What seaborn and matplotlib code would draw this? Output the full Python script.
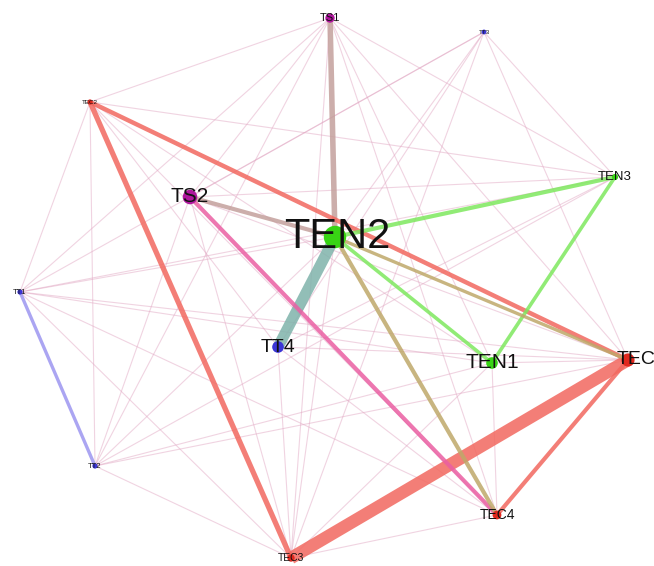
import matplotlib
matplotlib.use("Agg")
import matplotlib.pyplot as plt
import seaborn as sns
import pandas as pd

# ---- data ----
node_names = ["TS1", "TT3", "TEC2", "TEN3", "TS2", "TEN2", "TT1", "TT4", "TEN1", "TEC", "TT2", "TEC4", "TEC3"]
node_x = [330, 484, 90, 615, 190, 335, 20, 278, 492, 628, 95, 497, 291]
node_y = [18, 32, 102, 177, 197, 237, 292, 347, 363, 360, 466, 515, 558]
node_group = ["S", "T", "EC", "EN", "S", "EN", "T", "T", "EN", "EC", "T", "EC", "EC"]
node_size = [45, 12, 14, 20, 110, 260, 14, 70, 70, 90, 14, 40, 28]
label_size = [8, 4.5, 4.5, 9.5, 15, 30, 5.5, 14, 15, 14, 5.5, 10, 7.5]
label_dx = [0, 0, 0, 0, 0, 2, 0, 0, 0, 8, 0, 0, 0]

strong_src = ["TEC3", "TEN2", "TS1", "TEC2", "TEC2", "TS2", "TS2", "TEN2", "TEN2", "TEN3", "TEN2", "TEN2", "TEC4", "TT1"]
strong_dst = ["TEC", "TT4", "TEN2", "TEC3", "TEC", "TEC4", "TEN2", "TEN3", "TEN1", "TEN1", "TEC", "TEC4", "TEC", "TT2"]
strong_w = [9.0, 8.0, 4.0, 3.8, 3.2, 3.0, 3.0, 3.0, 2.6, 2.6, 2.4, 3.0, 3.0, 2.4]
strong_kind = ["red", "teal", "brown", "red", "red", "pink", "brown", "green", "green", "green", "olive", "olive", "red", "blue"]

weak_src = ["TS1", "TS1", "TS1", "TS1", "TS1", "TS1", "TS1", "TS1", "TS1",
            "TT3", "TT3", "TT3", "TT3", "TT3", "TT3", "TT3",
            "TEC2", "TEC2", "TEC2", "TEC2", "TEC2", "TEC2",
            "TT1", "TT1", "TT1", "TT1", "TT1", "TT1",
            "TT2", "TT2", "TT2", "TT2", "TT2", "TT2",
            "TEC3", "TEC3", "TEC3", "TEC3", "TEC3",
            "TEC4", "TEC4", "TEC", "TEC", "TEC", "TEN3", "TEN3"]
weak_dst = ["TEC2", "TEN3", "TT1", "TS2", "TEN1", "TEC", "TEC4", "TEC3", "TT2",
            "TT1", "TS2", "TEN2", "TT4", "TEC3", "TEN3", "TEC",
            "TEN3", "TT1", "TT2", "TEN1", "TEC4", "TT4",
            "TEN3", "TEN2", "TEC", "TEC3", "TEC4", "TEN1",
            "TS2", "TEN2", "TEN1", "TEC", "TEC3", "TEN3",
            "TS2", "TEN2", "TT4", "TEN1", "TEC4",
            "TEN1", "TT4", "TT4", "TS2", "TEN1", "TS2", "TT4"]

# ---- styling ----
group_colors = {"S": "#b0169e", "T": "#3b35d6", "EC": "#e0281e", "EN": "#38d414"}
edge_colors = {"red": "#f2685f", "teal": "#7fb3ab", "brown": "#c4a09c", "pink": "#ea5fa3",
               "green": "#7ee85e", "olive": "#bfa86a", "blue": "#9c96f0"}

sns.set_theme(style="white")
plt.rcParams["font.family"] = ["Liberation Sans", "DejaVu Sans"]

fig = plt.figure(figsize=(6.54, 5.66), dpi=100)
ax = fig.add_axes([0, 0, 1, 1])

pos = {n: (x, y) for n, x, y in zip(node_names, node_x, node_y)}

for s, d in zip(weak_src, weak_dst):
    ax.plot([pos[s][0], pos[d][0]], [pos[s][1], pos[d][1]], color="#e2a9c4", lw=0.8, alpha=0.5, zorder=1,
            solid_capstyle="butt")

for s, d, w, k in zip(strong_src, strong_dst, strong_w, strong_kind):
    ax.plot([pos[s][0], pos[d][0]], [pos[s][1], pos[d][1]], color=edge_colors[k], lw=w, alpha=0.85, zorder=2,
            solid_capstyle="butt")

nodes = pd.DataFrame({"name": node_names, "x": node_x, "y": node_y, "group": node_group, "size": node_size})
sns.scatterplot(data=nodes, x="x", y="y", hue="group", palette=group_colors, size="size",
                sizes=(min(node_size), max(node_size)), legend=False, edgecolor="none", ax=ax, zorder=3)

for n, x, y, fs, dx in zip(node_names, node_x, node_y, label_size, label_dx):
    ax.text(x + dx, y, n, fontsize=fs, ha="center", va="center", color="#111111", zorder=4)

ax.set_xlim(0, 654)
ax.set_ylim(566, 0)
ax.set_axis_off()
fig.savefig("out.png", dpi=100)
